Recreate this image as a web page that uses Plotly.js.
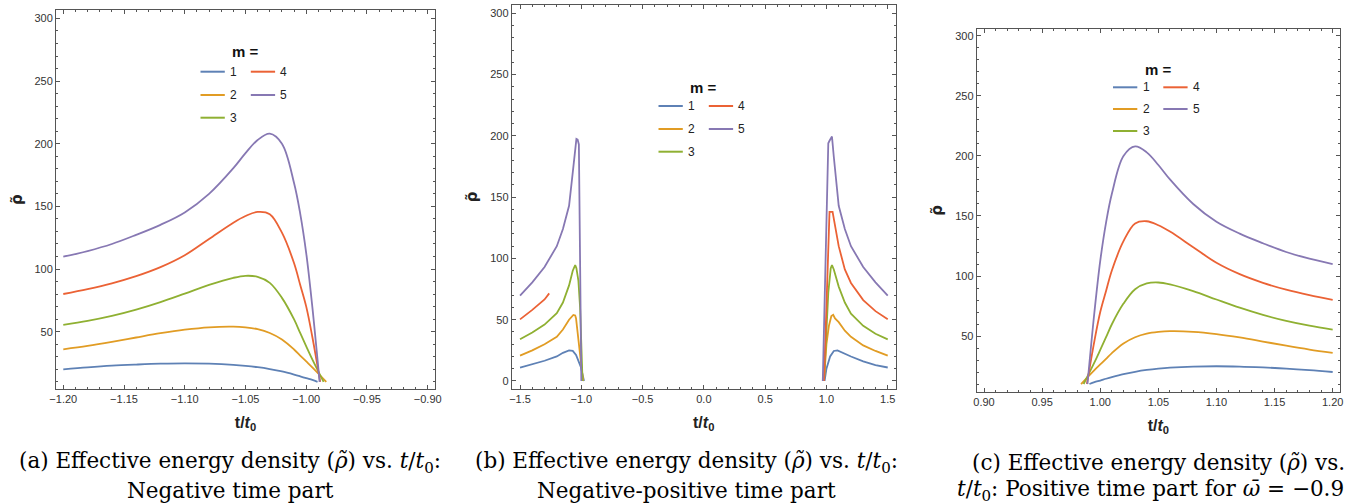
<!DOCTYPE html>
<html>
<head>
<meta charset="utf-8">
<script src="https://cdn.plot.ly/plotly-3.0.1.min.js"></script>
<style>html,body{margin:0;padding:0;background:#fff;} #chart{width:1356px;height:504px;}</style>
</head>
<body>
<div id="chart"></div>
<script>
// ---------- data ----------
const mLabels = ['1', '2', '3', '4', '5'];
const colors = ['#5E81B5', '#E19C24', '#8FB032', '#EB6235', '#8778B3'];

// Panels (a) and (c): the curves are mirror images; same rho values, t negative / positive
const tNeg = [-1.20, -1.18, -1.16, -1.14, -1.12, -1.10, -1.08, -1.06, -1.05, -1.04, -1.03, -1.02, -1.01, -1.005, -1.00, -0.995];
const tNegEnd = [-0.9907, -0.9835, -0.9857, -0.9885, -0.9890];
const tPos = [1.20, 1.18, 1.16, 1.14, 1.12, 1.10, 1.08, 1.06, 1.05, 1.04, 1.03, 1.02, 1.01, 1.005, 1.00, 0.995];
const tPosEnd = [0.9907, 0.9835, 0.9857, 0.9885, 0.9890];

const rho_m1 = [20, 21.6, 22.9, 23.8, 24.5, 24.8, 24.5, 23.6, 22.8, 21.7, 20.2, 18.3, 15.8, 14.4, 12.9, 11.5, 10];
const rho_m2 = [36, 38.7, 41.9, 45.4, 48.8, 51.6, 53.5, 54, 53.4, 52, 49, 43.8, 35.8, 31, 26.3, 21.6, 10];
const rho_m3 = [55.4, 58.6, 62.6, 67.6, 73.6, 80.4, 87.4, 93, 94.6, 93.8, 89, 77, 59.8, 49, 38.4, 28, 10];
const rho_m4 = [80.1, 84, 88.6, 94.3, 101.5, 111, 124, 137, 142.3, 145.6, 143.8, 129, 104.6, 87.5, 70, 46, 10];
const rho_m5 = [109.9, 114.4, 120, 127.3, 135.3, 145.2, 160, 180.5, 192.5, 203, 208, 200, 168.5, 144.5, 112.6, 70, 10];

// Panel (b): negative branch
const tB_m1_neg = [-1.5, -1.4, -1.3, -1.2, -1.15, -1.1, -1.07, -1.043, -1.005, -0.978];
const rhoB_m1_neg = [10.9, 13.5, 16.5, 20, 23, 25, 24.5, 21.2, 11.7, 0];
const tB_m2_neg = [-1.5, -1.4, -1.3, -1.2, -1.15, -1.1, -1.065, -1.05, -1.043, -1.024, -1.005, -0.985];
const rhoB_m2_neg = [20.7, 25, 30, 36, 42, 50, 53.9, 53.5, 51, 36, 17, 0];
const tB_m3_neg = [-1.5, -1.4, -1.3, -1.2, -1.15, -1.1, -1.07, -1.05, -1.04, -1.024, -1.01, -0.997, -0.99];
const rhoB_m3_neg = [34, 39.5, 46, 55.4, 64, 78, 90, 94.6, 92, 82, 60, 22, 0];
const tB_m4_neg = [-1.5, -1.4, -1.3, -1.262];
const rhoB_m4_neg = [50.3, 58, 66.5, 71.5];
const tB_m5_neg = [-1.5, -1.4, -1.3, -1.2, -1.15, -1.1, -1.07, -1.05, -1.04, -1.03, -1.02, -1.0];
const rhoB_m5_neg = [69.6, 80.5, 93, 110, 124, 143, 170, 193, 197.5, 197, 193, 0];

// Panel (b): positive branch
const tB_m1_pos = [0.985, 1.0, 1.03, 1.06, 1.09, 1.15, 1.2, 1.3, 1.4, 1.5];
const rhoB_m1_pos = [0, 10, 20, 24.5, 25, 22, 20, 16, 13, 11];
const tB_m2_pos = [0.98, 1.0, 1.02, 1.04, 1.055, 1.07, 1.1, 1.15, 1.2, 1.3, 1.4, 1.5];
const rhoB_m2_pos = [0, 30, 45, 53, 54, 51, 48, 41, 36, 29, 24.5, 20.7];
const tB_m3_pos = [0.98, 1.0, 1.015, 1.035, 1.045, 1.06, 1.08, 1.1, 1.15, 1.2, 1.3, 1.4, 1.5];
const rhoB_m3_pos = [0, 45, 72, 92, 94.5, 91, 84, 77, 64, 55, 45, 38.5, 34];
const tB_m4_pos = [0.98, 1.025, 1.05, 1.06, 1.08, 1.1, 1.15, 1.2, 1.3, 1.4, 1.5];
const rhoB_m4_pos = [0, 138, 138, 133, 122, 110, 91, 80, 66, 57, 50.3];
const tB_m5_pos = [0.97, 1.015, 1.025, 1.045, 1.06, 1.08, 1.1, 1.15, 1.2, 1.3, 1.4, 1.5];
const rhoB_m5_pos = [0, 194, 196, 199.5, 183, 160, 143, 124, 110, 93, 80.5, 69.7];

// ---------- build ----------
const rhoAll = [rho_m1, rho_m2, rho_m3, rho_m4, rho_m5];
const bNeg = [[tB_m1_neg, rhoB_m1_neg], [tB_m2_neg, rhoB_m2_neg], [tB_m3_neg, rhoB_m3_neg], [tB_m4_neg, rhoB_m4_neg], [tB_m5_neg, rhoB_m5_neg]];
const bPos = [[tB_m1_pos, rhoB_m1_pos], [tB_m2_pos, rhoB_m2_pos], [tB_m3_pos, rhoB_m3_pos], [tB_m4_pos, rhoB_m4_pos], [tB_m5_pos, rhoB_m5_pos]];

const traces = [];
const LW = 1.8;
for (let i = 0; i < 5; i++) {
  traces.push({x: tNeg.concat([tNegEnd[i]]), y: rhoAll[i], xaxis: 'x', yaxis: 'y', mode: 'lines',
    line: {color: colors[i], width: LW, shape: 'spline', smoothing: 1}, name: mLabels[i], showlegend: false});
}
for (let i = 0; i < 5; i++) {
  traces.push({x: bNeg[i][0], y: bNeg[i][1], xaxis: 'x2', yaxis: 'y2', mode: 'lines',
    line: {color: colors[i], width: LW}, name: mLabels[i], showlegend: false});
  traces.push({x: bPos[i][0], y: bPos[i][1], xaxis: 'x2', yaxis: 'y2', mode: 'lines',
    line: {color: colors[i], width: LW}, name: mLabels[i], showlegend: false});
}
for (let i = 0; i < 5; i++) {
  traces.push({x: tPos.concat([tPosEnd[i]]), y: rhoAll[i], xaxis: 'x3', yaxis: 'y3', mode: 'lines',
    line: {color: colors[i], width: LW, shape: 'spline', smoothing: 1}, name: mLabels[i], showlegend: false});
}

const W = 1356, H = 504;
const PX = v => v / W, PY = v => 1 - v / H;
const frameCol = '#555';
const tickFont = {family: 'Liberation Sans, Arial, sans-serif', size: 11, color: '#333'};
const xTitle = {text: '<b>t/<i>t</i><sub>0</sub></b>', font: {family: 'Liberation Sans, Arial, sans-serif', size: 16, color: '#222'}, standoff: 12};
const yTitle = {text: '<b>ρ̃</b>', font: {family: 'DejaVu Sans, sans-serif', size: 15, color: '#222'}, standoff: 8};

function xax(domPx, range, dtick, tick0, minor, fmt) {
  return {domain: [PX(domPx[0]), PX(domPx[1])], range: range, dtick: dtick, tick0: tick0, tickformat: fmt,
    showline: true, linecolor: frameCol, linewidth: 1, mirror: 'allticks', ticks: 'inside', ticklen: 4, tickcolor: frameCol,
    minor: {ticks: 'inside', ticklen: 2, dtick: minor, tickcolor: frameCol, showgrid: false},
    showgrid: false, zeroline: false, tickfont: tickFont, title: xTitle, automargin: false, fixedrange: true};
}
function yax(domPx, range) {
  return {domain: [PY(domPx[1]), PY(domPx[0])], range: range, dtick: 50, tick0: 0,
    showline: true, linecolor: frameCol, linewidth: 1, mirror: 'allticks', ticks: 'inside', ticklen: 4, tickcolor: frameCol,
    minor: {ticks: 'inside', ticklen: 2, dtick: 10, tickcolor: frameCol, showgrid: false},
    showgrid: false, zeroline: false, tickfont: tickFont, title: yTitle, automargin: false, fixedrange: true};
}

const layout = {
  width: W, height: H, margin: {l: 0, r: 0, t: 0, b: 0},
  paper_bgcolor: '#fff', plot_bgcolor: '#fff', showlegend: false,
  xaxis: Object.assign(xax([56, 435], [-1.206, -0.894], 0.05, -1.2, 0.01, '.2f'), {anchor: 'y'}),
  yaxis: Object.assign(yax([10, 389], [4.3, 306.7]), {anchor: 'x'}),
  xaxis2: Object.assign(xax([511.7, 895.7], [-1.568, 1.565], 0.5, 0, 0.1, '.1f'), {anchor: 'y2'}),
  yaxis2: Object.assign(yax([5, 388.7], [-6.3, 306.8]), {anchor: 'x2'}),
  xaxis3: Object.assign(xax([976.7, 1340], [0.8937, 1.2063], 0.05, 0.9, 0.01, '.2f'), {anchor: 'y3'}),
  yaxis3: Object.assign(yax([29, 391.7], [3.6, 305.8]), {anchor: 'x3'}),
  shapes: [], annotations: []
};

// legends (drawn per panel)
const legendPos = [
  {cx: 245.5, ty: 52, rows: [71.7, 95, 117.7]},
  {cx: 703.5, ty: 87.3, rows: [106, 129, 151.7]},
  {cx: 1158, ty: 69.3, rows: [87.3, 109, 131]}
];
const slot = [[0, 0], [0, 1], [0, 2], [1, 0], [1, 1]];
legendPos.forEach(p => {
  layout.annotations.push({xref: 'paper', yref: 'paper', x: PX(p.cx), y: PY(p.ty), text: '<b>m =</b>', showarrow: false,
    xanchor: 'center', yanchor: 'middle', font: {family: 'Liberation Sans, Arial, sans-serif', size: 15, color: '#111'}});
  for (let i = 0; i < 5; i++) {
    const col = slot[i][0], row = slot[i][1];
    const x0 = p.cx + (col === 0 ? -45 : 5.3), x1 = x0 + 24.3, lx = p.cx + (col === 0 ? -12 : 38.3);
    const yy = p.rows[row];
    layout.shapes.push({type: 'line', xref: 'paper', yref: 'paper', x0: PX(x0), x1: PX(x1), y0: PY(yy), y1: PY(yy),
      line: {color: colors[i], width: 2}});
    layout.annotations.push({xref: 'paper', yref: 'paper', x: PX(lx), y: PY(yy), text: mLabels[i], showarrow: false,
      xanchor: 'center', yanchor: 'middle', font: {family: 'Liberation Sans, Arial, sans-serif', size: 12, color: '#222'}});
  }
});

// captions
const capFont = {family: 'DejaVu Serif, serif', size: 21.5, color: '#000'};
const RHO = '(<i>ρ̃</i>)';
const captions = [
  {x: 230, y: 462, t: '(a) Effective energy density ' + RHO + ' vs. <i>t</i>/<i>t</i><sub>0</sub>:'},
  {x: 230, y: 490, t: 'Negative time part'},
  {x: 686, y: 462, t: '(b) Effective energy density ' + RHO + ' vs. <i>t</i>/<i>t</i><sub>0</sub>:'},
  {x: 686, y: 490, t: 'Negative-positive time part'},
  {x: 1158, y: 462, t: '(c) Effective energy density ' + RHO + ' vs.'},
  {x: 1150, y: 490, t: '<i>t</i>/<i>t</i><sub>0</sub>: Positive time part for <i>ω̄</i> = −0.9'}
];
captions.forEach(c => layout.annotations.push({xref: 'paper', yref: 'paper', x: PX(c.x), y: PY(c.y), text: c.t,
  showarrow: false, xanchor: 'center', yanchor: 'middle', font: capFont}));

Plotly.newPlot('chart', traces, layout, {staticPlot: true, displayModeBar: false});
</script>
</body>
</html>
